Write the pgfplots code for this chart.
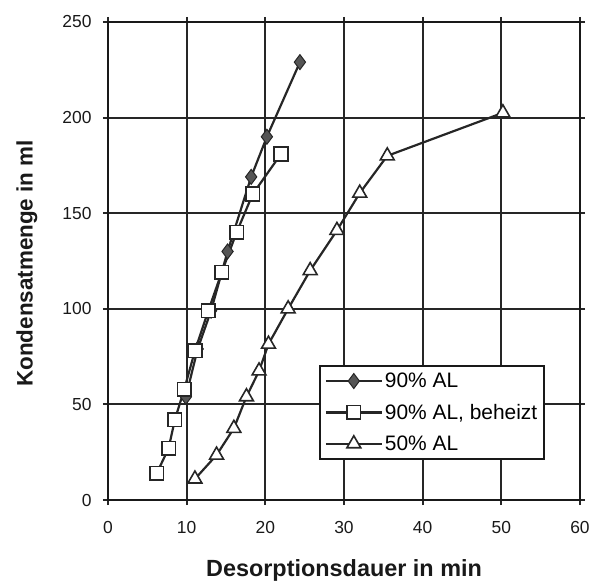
\documentclass[border=0pt]{standalone}
\usepackage{pgfplots}
\pgfplotsset{compat=1.18}
\usepackage{fontspec}
\setmainfont{Liberation Sans}
\definecolor{linegray}{HTML}{262626}
\definecolor{markgray}{HTML}{555555}

\begin{document}
\begin{tikzpicture}
\path[use as bounding box] (-108bp,-88bp) rectangle (494bp,500bp);
\begin{axis}[
  at={(0,0)}, anchor=south west,
  scale only axis,
  width=472bp, height=478bp,
  xmin=0, xmax=60, ymin=0, ymax=250,
  xtick={0,10,...,60}, ytick={0,50,...,250},
  grid=major,
  major grid style={line width=1.9bp, black!85},
  axis line style={line width=2bp, black!90},
  tick style={line width=1.9bp, black!85},
  tick align=outside,
  major tick length=5bp,
  /pgf/number format/assume math mode=true,
  tick label style={font=\fontsize{17.5}{19}\selectfont, black!90},
  xticklabel style={yshift=-13bp},
  yticklabel style={xshift=-8bp},
  xlabel={\textbf{Desorptionsdauer in min}},
  ylabel={\textbf{Kondensatmenge in ml}},
  label style={black!90},
  xlabel style={font=\fontsize{23.5}{25}\selectfont,
    at={(axis description cs:0.5,-0.148)}, anchor=center},
  ylabel style={font=\fontsize{22.5}{24}\selectfont,
    at={(axis description cs:-0.172,0.495)}, anchor=center},
  legend style={
    at={(axis description cs:0.926,0.282)}, anchor=north east,
    font=\fontsize{21}{23}\selectfont,
    draw=black!90, line width=1.6bp, fill=white,
    inner xsep=5bp, inner ysep=5bp,
    row sep=11bp,
    legend cell align=left,
  },
  legend image code/.code={
    \draw[mark repeat=2, mark phase=2, #1]
      plot coordinates {(0bp,0bp) (28bp,0bp) (56bp,0bp)};
  },
  every axis plot/.append style={line width=2.2pt, color=linegray},
]
% 90 % Adsorberladung
\addplot[mark=diamond*, mark size=7.5bp,
  mark options={fill=markgray, draw=linegray, line width=1pt}]
  coordinates {
    (9.9,54) (11.4,79) (13.1,99) (15.2,130)
    (18.2,169) (20.2,190) (24.4,229)
  };
\addlegendentry{90\% AL}

% 90 % Adsorberladung, beheizt
\addplot[mark=square*, mark size=6.8bp,
  mark options={fill=white, draw=linegray, line width=1.6pt}]
  coordinates {
    (6.2,14) (7.7,27) (8.5,42) (9.7,58) (11.05,78)
    (12.75,99) (14.45,119) (16.35,140) (18.4,160) (22.0,181)
  };
\addlegendentry{90\% AL, beheizt}

% 50 % Adsorberladung
\addplot[mark=triangle*, mark size=8bp,
  mark options={fill=white, draw=linegray, line width=1.6pt}]
  coordinates {
    (11.05,11) (13.8,23.5) (16.0,37.5) (17.6,54) (19.2,67.5)
    (20.4,81.5) (22.9,100) (25.7,120) (29.1,141) (32.0,160.5)
    (35.5,180) (50.2,202.5)
  };
\addlegendentry{50\% AL}
\end{axis}
\end{tikzpicture}
\end{document}
